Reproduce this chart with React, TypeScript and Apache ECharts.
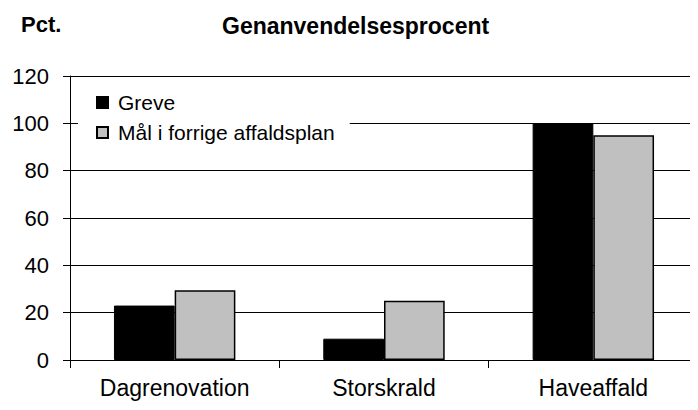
import React, { useEffect, useRef } from "react";
import * as echarts from "echarts";

const categories = ["Dagrenovation", "Storskrald", "Haveaffald"];
const greve = [23, 9, 100];
const goal = [29.5, 25, 95];
const seriesNames = ["Greve", "Mål i forrige affaldsplan"];
const yTicks = { min: 0, max: 120, interval: 20 };
const FONT = "Liberation Sans, Arial, sans-serif";

export default function App() {
  const ref = useRef<HTMLDivElement>(null);
  useEffect(() => {
    const chart = echarts.init(ref.current!, null, { renderer: "svg" });
    chart.setOption({
      animation: false,
      backgroundColor: "#ffffff",
      textStyle: { fontFamily: FONT },
      graphic: [
        {
          type: "text",
          x: 21,
          y: 24,
          style: { text: "Pct.", font: `bold 22px ${FONT}`, fill: "#000", verticalAlign: "middle" },
        },
        {
          type: "text",
          x: 222,
          y: 26,
          style: { text: "Genanvendelsesprocent", font: `bold 23px ${FONT}`, fill: "#000", verticalAlign: "middle" },
        },
      ],
      legend: {
        orient: "vertical",
        left: 78,
        top: 78,
        padding: [10, 15, 8, 18],
        backgroundColor: "#ffffff",
        itemWidth: 11,
        itemHeight: 11,
        itemGap: 1,
        icon: "rect",
        textStyle: {
          fontSize: 21,
          lineHeight: 19,
          padding: [0, 0, 10, 5],
          color: "#000",
          fontFamily: FONT,
        },
        data: seriesNames,
      },
      grid: { left: 70, right: -5, top: 76, bottom: 50 },
      xAxis: {
        type: "category",
        data: categories,
        axisLine: { lineStyle: { color: "#000", width: 1 } },
        axisTick: { show: true, length: 8, inside: false, lineStyle: { color: "#000" } },
        axisLabel: { fontSize: 23, color: "#000", margin: 16 },
      },
      yAxis: {
        type: "value",
        min: yTicks.min,
        max: yTicks.max,
        interval: yTicks.interval,
        axisLine: { show: true, lineStyle: { color: "#000", width: 1 } },
        axisTick: { show: true, length: 7, lineStyle: { color: "#000" } },
        axisLabel: { fontSize: 22, color: "#000", margin: 21 },
        splitLine: { lineStyle: { color: "#000", width: 1 } },
      },
      series: [
        {
          name: seriesNames[0],
          type: "bar",
          data: greve,
          barGap: "0%",
          barCategoryGap: "42%",
          itemStyle: { color: "#000000", borderColor: "#000", borderWidth: 1 },
        },
        {
          name: seriesNames[1],
          type: "bar",
          data: goal,
          barGap: "0%",
          barCategoryGap: "42%",
          itemStyle: { color: "#c0c0c0", borderColor: "#000", borderWidth: 1.5 },
        },
      ],
    });
    return () => chart.dispose();
  }, []);
  return <div ref={ref} style={{ width: 698, height: 410, margin: -8 }} />;
}
